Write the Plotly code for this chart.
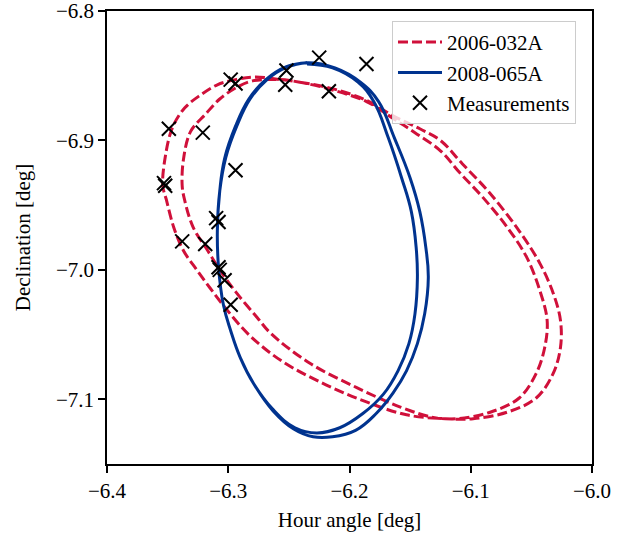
import plotly.graph_objects as go

# 2006-032A ground track (two passes)
sat1_x = [-6.257, -6.241, -6.214, -6.186, -6.164, -6.142, -6.125, -6.107, -6.084, -6.060,
          -6.043, -6.032, -6.026, -6.026, -6.032, -6.046, -6.070, -6.098, -6.121, -6.153,
          -6.186, -6.219, -6.255, -6.282, -6.301, -6.315, -6.326, -6.337, -6.345, -6.351,
          -6.354, -6.352, -6.346, -6.336, -6.323, -6.309, -6.294, -6.278,
          -6.257, -6.241, -6.214, -6.186, -6.164, -6.146, -6.125, -6.109, -6.090, -6.070,
          -6.054, -6.043, -6.037, -6.039, -6.046, -6.060, -6.084, -6.111, -6.131, -6.158,
          -6.194, -6.233, -6.265, -6.276, -6.293, -6.307, -6.317, -6.329, -6.336, -6.338,
          -6.337, -6.331, -6.319, -6.307, -6.293, -6.280, -6.257]
sat1_y = [-6.853, -6.855, -6.860, -6.869, -6.881, -6.891, -6.900, -6.918, -6.941, -6.970,
          -6.995, -7.018, -7.039, -7.060, -7.080, -7.099, -7.110, -7.115, -7.115, -7.112,
          -7.102, -7.089, -7.071, -7.051, -7.031, -7.014, -7.000, -6.985, -6.967, -6.946,
          -6.935, -6.913, -6.890, -6.875, -6.865, -6.857, -6.853, -6.851,
          -6.853, -6.855, -6.861, -6.870, -6.883, -6.894, -6.908, -6.925, -6.944, -6.967,
          -6.990, -7.016, -7.039, -7.060, -7.080, -7.099, -7.110, -7.115, -7.114, -7.106,
          -7.091, -7.072, -7.049, -7.037, -7.018, -7.000, -6.985, -6.967, -6.946, -6.935,
          -6.915, -6.893, -6.880, -6.868, -6.859, -6.854, -6.853]

# 2008-065A ground track (two passes)
sat2_x = [-6.235, -6.214, -6.193, -6.180, -6.168, -6.157, -6.149, -6.145, -6.144, -6.146,
          -6.151, -6.160, -6.172, -6.189, -6.208, -6.227, -6.245, -6.263, -6.279, -6.290,
          -6.298, -6.304, -6.308, -6.309, -6.307, -6.302, -6.293, -6.282, -6.268, -6.253,
          -6.235, -6.212, -6.191, -6.176, -6.163, -6.150, -6.142, -6.137, -6.135, -6.138,
          -6.144, -6.153, -6.164, -6.178, -6.195, -6.214, -6.230, -6.246, -6.263, -6.279,
          -6.290, -6.298, -6.304, -6.308, -6.309, -6.307, -6.303, -6.294, -6.283, -6.269,
          -6.252, -6.235]
sat2_y = [-6.841, -6.844, -6.855, -6.870, -6.898, -6.929, -6.955, -6.983, -7.006, -7.034,
          -7.057, -7.078, -7.096, -7.111, -7.122, -7.126, -7.122, -7.108, -7.088, -7.068,
          -7.047, -7.027, -6.998, -6.970, -6.939, -6.913, -6.889, -6.868, -6.853, -6.844,
          -6.840, -6.844, -6.855, -6.870, -6.898, -6.929, -6.955, -6.983, -7.006, -7.034,
          -7.057, -7.078, -7.095, -7.111, -7.124, -7.129, -7.129, -7.123, -7.109, -7.088,
          -7.068, -7.047, -7.027, -6.998, -6.970, -6.939, -6.914, -6.889, -6.868, -6.853,
          -6.843, -6.840]

# Measurements
meas_x = [-6.298, -6.294, -6.252, -6.253, -6.225, -6.217, -6.186, -6.349, -6.321, -6.353,
          -6.352, -6.294, -6.310, -6.308, -6.338, -6.319, -6.308, -6.307, -6.303, -6.298]
meas_y = [-6.853, -6.856, -6.846, -6.857, -6.836, -6.862, -6.841, -6.891, -6.894, -6.933,
          -6.935, -6.923, -6.960, -6.963, -6.978, -6.980, -6.998, -7.000, -7.008, -7.027]

x_ticks = [-6.4, -6.3, -6.2, -6.1, -6.0]
y_ticks = [-7.1, -7.0, -6.9, -6.8]

RED = "#d0103a"
BLUE = "#00338f"
FONT = "Liberation Serif"
FS = 21

fig = go.Figure()
fig.add_trace(go.Scatter(x=sat1_x, y=sat1_y, mode="lines", name="2006-032A",
                         line=dict(color=RED, width=3, dash="10px,4px", shape="spline", smoothing=1.0)))
fig.add_trace(go.Scatter(x=sat2_x, y=sat2_y, mode="lines", name="2008-065A",
                         line=dict(color=BLUE, width=3, shape="spline", smoothing=1.2)))
fig.add_trace(go.Scatter(x=meas_x, y=meas_y, mode="markers", name="Measurements",
                         marker=dict(symbol="x-thin", size=14, color="black",
                                     line=dict(width=2, color="black"))))

axis_common = dict(showgrid=False, zeroline=False, showline=True, linecolor="black",
                   linewidth=1.5, mirror=True, ticks="outside", ticklen=7, tickwidth=1.5,
                   tickcolor="black", automargin=False, ticklabeloverflow="allow",
                   tickfont=dict(family=FONT, size=FS, color="black"))

fig.update_layout(
    width=625, height=535,
    margin=dict(l=107, r=33, t=11, b=71),
    plot_bgcolor="white", paper_bgcolor="white",
    font=dict(family=FONT, size=FS, color="black"),
    xaxis=dict(range=[-6.4, -6.0], tickvals=x_ticks, tickformat=".1f",
               title=dict(text="Hour angle [deg]", font=dict(family=FONT, size=FS), standoff=10),
               **axis_common),
    yaxis=dict(range=[-7.15, -6.8], tickvals=y_ticks, tickformat=".1f",
               title=dict(text="Declination [deg]", font=dict(family=FONT, size=FS), standoff=20),
               **axis_common),
    legend=dict(x=0.967, y=0.978, xanchor="right", yanchor="top",
                bgcolor="rgba(255,255,255,0.8)", bordercolor="#cccccc", borderwidth=1,
                font=dict(family=FONT, size=FS), tracegroupgap=0, itemwidth=44),
    showlegend=True,
)

fig.write_html("out.html", config={"displayModeBar": False},
               post_script="document.body.style.margin='0';")
